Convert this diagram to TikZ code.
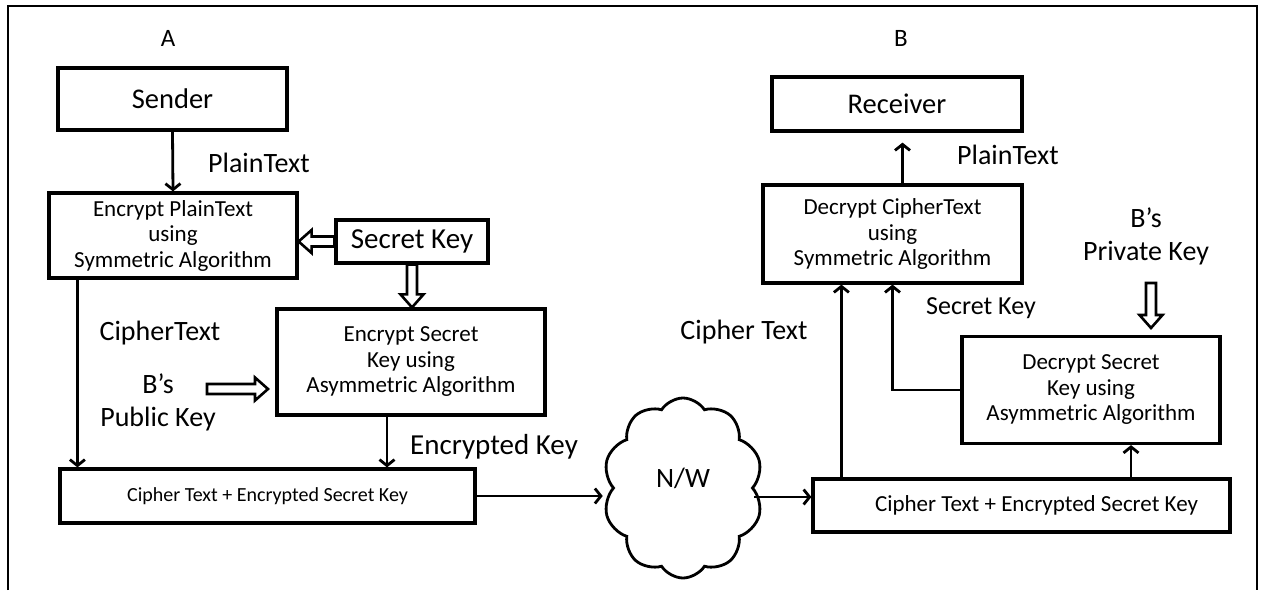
\documentclass[tikz,border=0pt]{standalone}
\usepackage{fontspec}
\setmainfont{Carlito}
\usetikzlibrary{arrows.meta,calc,shapes.symbols}
\newcommand\myfs[2]{\fontsize{#1}{#2}\selectfont}
\begin{document}
\begin{tikzpicture}[x=1pt,y=-1pt,
  box/.style={draw, line width=3.2pt, inner sep=0pt, align=center},
  boxtxt/.style={font=\myfs{23}{25.5}},
  lbl/.style={inner sep=0pt, align=center, font=\myfs{28}{33}},
  arr/.style={line width=2.8pt, -{Straight Barb[length=6pt,width=15pt]}},
  hollow/.style={line width=2.6pt, line join=miter, to path={
    ($(\tikztotarget)!13pt!(\tikztostart)$) coordinate (hb)
    ($(\tikztostart)!5pt!90:(\tikztotarget)$)
    -- ($(hb)!5pt!90:(\tikztotarget)$)
    -- ($(hb)!11.5pt!90:(\tikztotarget)$)
    -- (\tikztotarget)
    -- ($(hb)!11.5pt!-90:(\tikztotarget)$)
    -- ($(hb)!5pt!-90:(\tikztotarget)$)
    -- ($(\tikztostart)!5pt!-90:(\tikztotarget)$) -- cycle}}
]
\useasboundingbox (0,0) rectangle (1264,590);
\draw[line width=1.8pt] (8,590) -- (8,6) -- (1257,6) -- (1257,590);

% side A
\node[lbl,font=\myfs{25}{25}] (A) at (168,38) {A};
\node[box,minimum width=229pt,minimum height=62pt,font=\myfs{28.5}{30}] (sender) at (172.5,99) {Sender};
\node[box,boxtxt,minimum width=248pt,minimum height=85pt] (encpt) at (173,235.5) {Encrypt PlainText\\using\\Symmetric Algorithm};
\node[box,minimum width=152pt,minimum height=43pt,font=\myfs{29}{30}] (sk) at (412,241.5) {Secret Key};
\node[box,boxtxt,minimum width=268pt,minimum height=106pt] (encsk) at (411,362) {Encrypt Secret\\Key using\\Asymmetric Algorithm};
\node[box,minimum width=415pt,minimum height=54pt,font=\myfs{20}{22}] (ctl) at (267.5,496) {Cipher Text + Encrypted Secret Key};

\node[lbl] (ptl) at (259,163) {PlainText};
\node[lbl] (ctlab) at (160,333) {CipherText};
\node[lbl] (pub) at (158,402) {B’s\\Public Key};
\node[lbl,font=\myfs{29}{30}] (ek) at (494,447) {Encrypted Key};

% network
\node[draw, cloud, cloud puffs=10, cloud puff arc=115, cloud ignores aspect, minimum width=160pt, minimum height=180pt, line width=2.8pt, inner sep=0pt] (nw) at (683,488) {};
\node[lbl] (nwt) at (683,478) {N/W};

% side B
\node[lbl,font=\myfs{25}{25}] (B) at (901,38) {B};
\node[box,minimum width=250pt,minimum height=54pt,font=\myfs{28.5}{30}] (recv) at (897,104) {Receiver};
\node[box,boxtxt,minimum width=259pt,minimum height=98pt] (dect) at (892.5,234) {Decrypt CipherText\\using\\Symmetric Algorithm};
\node[box,boxtxt,minimum width=258pt,minimum height=107pt] (decsk) at (1091,390) {Decrypt Secret\\Key using\\Asymmetric Algorithm};
\node[box,boxtxt,minimum width=417pt,minimum height=53pt] (ctr) at (1021.5,505.5) {\hspace*{30pt}Cipher Text + Encrypted Secret Key};

\node[lbl] (ptr) at (1008,155) {PlainText};
\node[lbl] (priv) at (1146,236) {B’s\\Private Key};
\node[lbl] (ctlab2) at (744,332) {Cipher Text};
\node[lbl,font=\myfs{26}{30}] (skr) at (981,308) {Secret Key};

% connectors side A
\draw[arr] (sender.south) -- (encpt.north);
\draw[hollow] (sk.west) to (sk.west -| encpt.east);
\draw[hollow] (sk.south) to (sk.south |- encsk.north);
\coordinate (cta) at ([xshift=30pt]encpt.south west);
\draw[arr] (cta) -- (cta |- ctl.north);
\coordinate (pka) at (207,389);
\coordinate (pkb) at (268,389);
\draw[hollow] (pka) to (pkb);
\coordinate (eka) at ([xshift=-24pt]encsk.south);
\draw[arr] (eka) -- (eka |- ctl.north);
\draw[arr, shorten >=9pt] (ctl.east) -- (ctl.east -| nw.west);

% connectors side B
\coordinate (ctrin) at ([yshift=8.5pt]ctr.west);
\draw[arr] (nw.east |- ctrin) -- (ctrin);
\coordinate (c1) at ([xshift=30pt]ctr.north west);
\draw[arr] (c1) -- (c1 |- dect.south);
\coordinate (c2) at ([xshift=40pt]decsk.south);
\draw[arr] (c2 |- ctr.north) -- (c2);
\draw[arr] (decsk.west) -| (dect.south);
\coordinate (c3) at ([xshift=10pt]dect.north);
\draw[arr, shorten >=10pt] (c3) -- (c3 |- recv.south);
\coordinate (pva) at (1151,283);
\coordinate (pvb) at (1151,328);
\draw[hollow] (pva) to (pvb);
\end{tikzpicture}
\end{document}
